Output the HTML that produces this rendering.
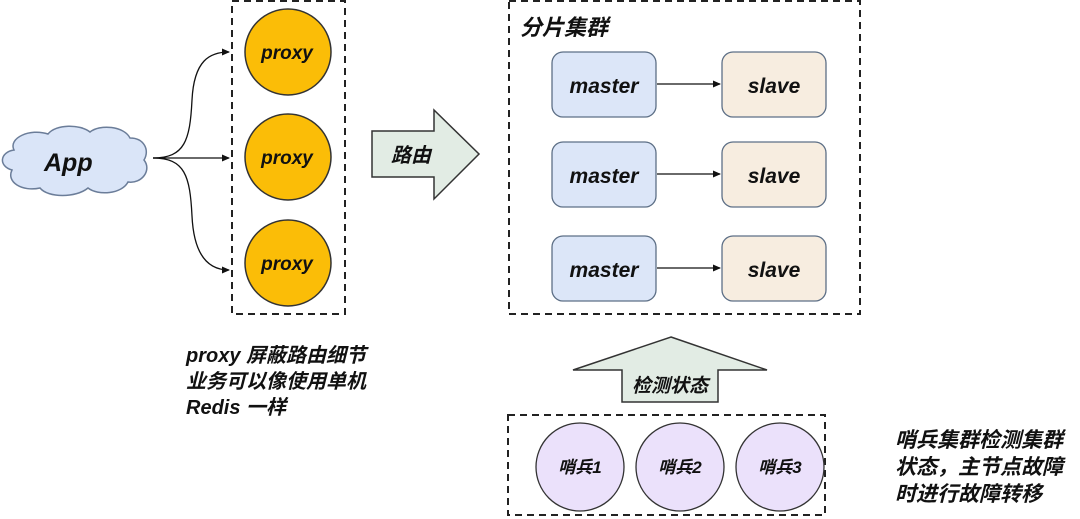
<!DOCTYPE html>
<html><head><meta charset="utf-8"><style>
html,body{margin:0;padding:0;background:#fff;width:1080px;height:519px;overflow:hidden}
text{font-family:"Liberation Sans","Noto Sans CJK SC",sans-serif;font-style:italic;font-weight:bold;fill:#111}
</style></head><body>
<svg width="1080" height="519" viewBox="0 0 1080 519" xmlns="http://www.w3.org/2000/svg">
<defs>
<marker id="ah" markerWidth="8" markerHeight="8" refX="7" refY="4" orient="auto" markerUnits="userSpaceOnUse">
<path d="M0,0.5 L8,4 L0,7.5 Z" fill="#111"/></marker>
</defs>
<path d="M14,150 C8,138 30,128 48,134 C56,124 80,124 90,132 C100,124 124,126 130,138 C144,138 150,150 144,160 C152,170 142,184 128,182 C122,194 98,196 88,188 C76,198 48,198 40,188 C22,192 6,182 12,170 C-2,166 0,152 14,150 Z" fill="#dae5f8" stroke="#6b7d99" stroke-width="1.5"/>
<text x="44" y="171" font-size="25">App</text>
<path d="M153,158 C185,158 190,140 192,100 C194,60 210,52 229,52" fill="none" stroke="#111" stroke-width="1.3" marker-end="url(#ah)"/>
<path d="M153,158 L229,158" fill="none" stroke="#111" stroke-width="1.3" marker-end="url(#ah)"/>
<path d="M153,158 C185,158 190,176 192,216 C194,258 210,270 229,270" fill="none" stroke="#111" stroke-width="1.3" marker-end="url(#ah)"/>
<rect x="232" y="1" width="113" height="313" fill="none" stroke="#222" stroke-width="2" stroke-dasharray="7,5"/>
<g fill="#fbbd07" stroke="#333" stroke-width="1.5">
<circle cx="288" cy="52" r="43"/><circle cx="288" cy="157" r="43"/><circle cx="288" cy="263" r="43"/></g>
<g font-size="19" text-anchor="middle">
<text x="287" y="59">proxy</text>
<text x="287" y="164">proxy</text>
<text x="287" y="270">proxy</text></g>
<path d="M372,131 L434,131 L434,110 L479,154 L434,199 L434,177 L372,177 Z" fill="#e2ece4" stroke="#333" stroke-width="1.5"/>
<text x="391" y="162" font-size="20">路由</text>
<rect x="509" y="1" width="351" height="313" fill="none" stroke="#222" stroke-width="2" stroke-dasharray="7,5"/>
<text x="520" y="35" font-size="22">分片集群</text>
<g stroke="#5d6f86" stroke-width="1.3">
<rect x="552" y="52" width="104" height="65" rx="11" fill="#dce6f8"/>
<rect x="552" y="142" width="104" height="65" rx="11" fill="#dce6f8"/>
<rect x="552" y="236" width="104" height="65" rx="11" fill="#dce6f8"/>
<rect x="722" y="52" width="104" height="65" rx="11" fill="#f7ede0"/>
<rect x="722" y="142" width="104" height="65" rx="11" fill="#f7ede0"/>
<rect x="722" y="236" width="104" height="65" rx="11" fill="#f7ede0"/>
</g>
<g font-size="21" text-anchor="middle">
<text x="604" y="93">master</text><text x="604" y="183">master</text><text x="604" y="277">master</text>
<text x="774" y="93">slave</text><text x="774" y="183">slave</text><text x="774" y="277">slave</text>
</g>
<g stroke="#111" stroke-width="1.3">
<line x1="657" y1="84" x2="720" y2="84" marker-end="url(#ah)"/>
<line x1="657" y1="174" x2="720" y2="174" marker-end="url(#ah)"/>
<line x1="657" y1="268" x2="720" y2="268" marker-end="url(#ah)"/>
</g>
<path d="M671,337 L767,370 L718,370 L718,402 L622,402 L622,370 L573,370 Z" fill="#e2ece4" stroke="#333" stroke-width="1.5"/>
<text x="670" y="392" font-size="19" text-anchor="middle">检测状态</text>
<rect x="508" y="415" width="317" height="100" fill="none" stroke="#222" stroke-width="2" stroke-dasharray="7,5"/>
<g fill="#ebe1fb" stroke="#333" stroke-width="1.3">
<circle cx="580" cy="467" r="44"/><circle cx="680" cy="467" r="44"/><circle cx="780" cy="467" r="44"/></g>
<g font-size="17" text-anchor="middle">
<text x="580" y="473">哨兵1</text><text x="680" y="473">哨兵2</text><text x="780" y="473">哨兵3</text></g>
<g font-size="20">
<text x="186" y="362">proxy 屏蔽路由细节</text>
<text x="186" y="388">业务可以像使用单机</text>
<text x="186" y="414">Redis 一样</text>
</g>
<g font-size="21">
<text x="895" y="447">哨兵集群检测集群</text>
<text x="895" y="474">状态，主节点故障</text>
<text x="895" y="501">时进行故障转移</text>
</g>
</svg>
</body></html>
